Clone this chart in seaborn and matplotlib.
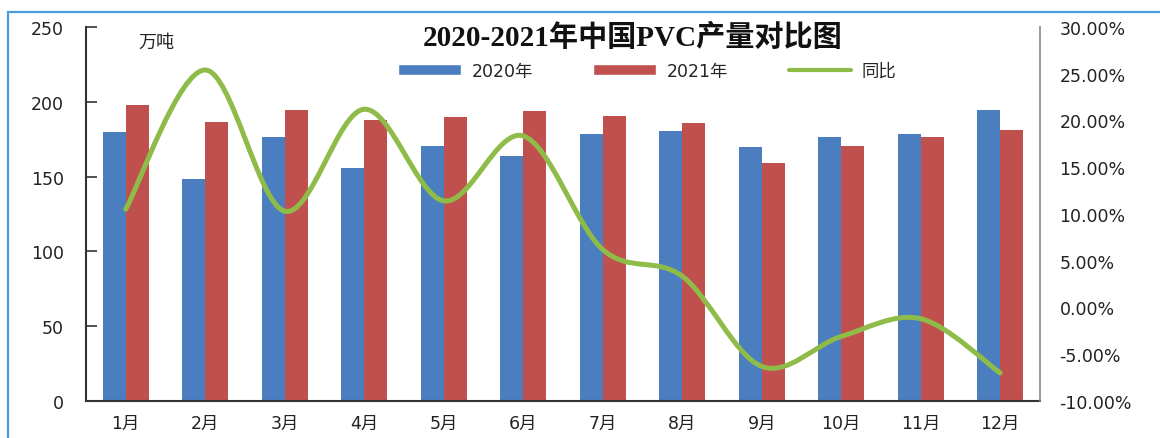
"""
PVC output 2020 vs 2021 by month, with year-on-year line on a second axis.
"""
import numpy as np
import pandas as pd
import matplotlib
matplotlib.use("Agg")
import matplotlib.pyplot as plt
import seaborn as sns
from matplotlib.path import Path
from matplotlib.patches import PathPatch, Patch, Rectangle
from matplotlib.lines import Line2D
from matplotlib.ticker import FuncFormatter, MultipleLocator

months = ["1月", "2月", "3月", "4月", "5月", "6月",
          "7月", "8月", "9月", "10月", "11月", "12月"]
prod_2020 = [179.5, 148.7, 176.2, 155.4, 170.5, 163.8,
             178.2, 180.2, 169.5, 176.2, 178.2, 194.4]
prod_2021 = [197.8, 186.2, 194.6, 188.0, 189.8, 193.8,
             190.6, 186.0, 158.9, 170.5, 176.2, 181.0]
yoy_pct = [10.5, 25.4, 10.3, 21.2, 11.4, 18.35,
           6.2, 3.35, -6.3, -3.1, -1.2, -7.0]
series_names = ["2020年", "2021年", "同比"]

BLUE, RED, GREEN = "#4a7ebf", "#c0504d", "#8fbb48"

sns.set_theme(style="white")
plt.rcParams["font.family"] = ["DejaVu Sans", "Noto Sans CJK SC"]


def smooth_path(xs, ys):
    # Excel-style smoothed line: cubic bezier segments through every point
    pts = np.column_stack([xs, ys]).astype(float)
    n = len(pts)
    verts, codes = [pts[0]], [Path.MOVETO]
    for i in range(n - 1):
        p0 = pts[i - 1] if i > 0 else pts[i]
        p1, p2 = pts[i], pts[i + 1]
        p3 = pts[i + 2] if i + 2 < n else pts[i + 1]
        verts += [p1 + (p2 - p0) / 6, p2 - (p3 - p1) / 6, p2]
        codes += [Path.CURVE4] * 3
    return Path(verts, codes)


df = pd.DataFrame({
    "month": months * 2,
    "year": [series_names[0]] * 12 + [series_names[1]] * 12,
    "output": prod_2020 + prod_2021,
})

fig = plt.figure(figsize=(11.6, 4.39), dpi=100)
ax = fig.add_axes([0.0741, 0.0843, 0.8224, 0.852])

sns.barplot(data=df, x="month", y="output", hue="year",
            palette=[BLUE, RED], width=0.58, gap=0, saturation=1,
            linewidth=0, legend=False, ax=ax)
ax.set_ylim(0, 250)
ax.set_xlim(-0.5, len(months) - 0.5)
ax.set_xlabel("")
ax.set_ylabel("")
ax.yaxis.set_major_locator(MultipleLocator(50))
ax.tick_params(axis="y", direction="in", length=8, width=1.2,
               color="#333333", pad=16, labelsize=12.5, labelcolor="#222222")
ax.tick_params(axis="x", which="major", length=0, pad=9,
               labelsize=12.5, labelcolor="#222222")
ax.set_xticks(np.arange(0.5, len(months) - 1, 1.0), minor=True)
ax.tick_params(axis="x", which="minor", direction="in", length=5,
               width=1.2, color="#333333")
for side in ["top", "right"]:
    ax.spines[side].set_visible(False)
for side in ["left", "bottom"]:
    ax.spines[side].set_color("#333333")
    ax.spines[side].set_linewidth(1.5)

ax2 = ax.twinx()
ax2.set_ylim(-10, 30)
ax2.yaxis.set_major_locator(MultipleLocator(5))
ax2.yaxis.set_major_formatter(FuncFormatter(lambda v, _: f"{v:.2f}%"))
ax2.tick_params(axis="y", length=0, pad=14, labelsize=12.5, labelcolor="#222222")
for side in ["top", "left", "bottom"]:
    ax2.spines[side].set_visible(False)
ax2.spines["right"].set_color("#888888")
ax2.spines["right"].set_linewidth(1.2)
ax2.grid(False)

x_pos = np.arange(len(months))
ax2.add_patch(PathPatch(smooth_path(x_pos, yoy_pct), fill=False,
                        edgecolor=GREEN, lw=3.6, capstyle="round",
                        joinstyle="round", transform=ax2.transData))

fig.text(0.545, 1 - 38 / 439, "2020-2021年中国PVC产量对比图",
         ha="center", va="center", fontsize=21, fontweight="bold",
         family=["Liberation Serif", "Noto Sans CJK SC"], color="#111111")
fig.text(138 / 1160, 1 - 43 / 439, "万吨", ha="left", va="center",
         fontsize=13, family=["Noto Sans CJK SC"], color="#222222")

handles = [Patch(facecolor=BLUE), Patch(facecolor=RED),
           Line2D([], [], color=GREEN, lw=3)]
fig.legend(handles, series_names, loc="center", ncol=3,
           bbox_to_anchor=(0.558, 1 - 72 / 439), frameon=False,
           handlelength=3.6, handleheight=0.6,
           columnspacing=3.5, handletextpad=0.6,
           prop={"family": ["DejaVu Sans", "Noto Sans CJK SC"], "size": 12.5})

fig.patches.append(Rectangle((7.5 / 1160, -0.1), 1.2, 1.1 - 13 / 439,
                             transform=fig.transFigure, fill=False,
                             edgecolor="#4a9be0", lw=1.6))

fig.savefig("out.png", dpi=100)
plt.close(fig)
